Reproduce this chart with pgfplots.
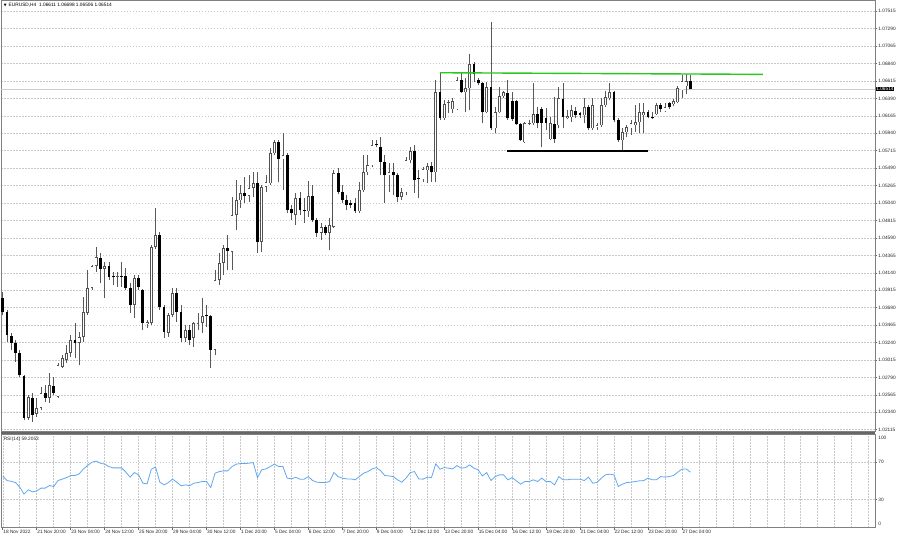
\documentclass[border=0pt]{standalone}
\usepackage{fontspec}
\setmainfont{Liberation Sans}
\newfontfamily\dejavu{DejaVu Sans}
\usepackage{pgfplots}
\usepackage{pgfplotstable}
\pgfplotsset{compat=1.18}

\pgfplotstableread{
i O H L C
6 1.02267 1.02563 1.02241 1.02538
8 1.02319 1.02525 1.02280 1.02396
9 1.02396 1.02667 1.02370 1.02589
11 1.02525 1.02847 1.02460 1.02692
13 1.02538 1.02976 1.02525 1.02950
14 1.02924 1.03079 1.02912 1.03040
15 1.03015 1.03208 1.02976 1.03105
16 1.03105 1.03337 1.03053 1.03272
18 1.03234 1.03376 1.02950 1.03311
19 1.03311 1.03827 1.03247 1.03633
20 1.03620 1.04175 1.03595 1.03943
21 1.03943 1.04239 1.03917 1.04226
22 1.04226 1.04471 1.04149 1.04342
24 1.04188 1.04278 1.03814 1.04226
27 1.04085 1.04149 1.03956 1.04097
31 1.03724 1.04110 1.03556 1.04072
34 1.03479 1.03530 1.03427 1.03504
35 1.03492 1.04497 1.03466 1.04471
36 1.04471 1.04974 1.04445 1.04626
39 1.03363 1.03620 1.03311 1.03595
40 1.03595 1.03943 1.03569 1.03878
43 1.03298 1.03466 1.03247 1.03401
45 1.03298 1.03504 1.03182 1.03492
46 1.03479 1.03620 1.03401 1.03492
47 1.03492 1.03814 1.03363 1.03582
50 1.03144 1.04175 1.03079 1.04046
51 1.04046 1.04394 1.03981 1.04265
52 1.04265 1.04497 1.04110 1.04458
54 1.04407 1.05116 1.04175 1.04884
55 1.04884 1.05335 1.04690 1.05077
56 1.05077 1.05270 1.04974 1.05167
58 1.05129 1.05399 1.05051 1.05232
59 1.05232 1.05438 1.05116 1.05296
61 1.04536 1.05270 1.04407 1.05245
62 1.05245 1.05399 1.05180 1.05309
63 1.05296 1.05747 1.05270 1.05683
64 1.05683 1.05850 1.05657 1.05825
66 1.05606 1.05941 1.05206 1.05657
69 1.04884 1.05167 1.04755 1.05103
72 1.04935 1.05322 1.04858 1.05129
75 1.04652 1.04781 1.04561 1.04729
77 1.04652 1.04845 1.04433 1.04755
78 1.04729 1.05464 1.04716 1.05425
84 1.04935 1.05309 1.04909 1.05206
85 1.05206 1.05657 1.05180 1.05438
86 1.05438 1.05657 1.05399 1.05528
87 1.05528 1.05850 1.05502 1.05786
91 1.05399 1.05554 1.05180 1.05438
94 1.05116 1.05232 1.05077 1.05180
95 1.05180 1.05631 1.05141 1.05593
96 1.05593 1.05760 1.05554 1.05709
99 1.05348 1.05502 1.05309 1.05477
100 1.05464 1.05554 1.05296 1.05515
102 1.05438 1.06624 1.05309 1.06469
104 1.06134 1.06366 1.06108 1.06314
105 1.06327 1.06366 1.06198 1.06340
106 1.06250 1.06392 1.06198 1.06353
107 1.06250 1.06663 1.06237 1.06624
109 1.06469 1.06650 1.06211 1.06521
110 1.06521 1.06959 1.06237 1.06830
114 1.06211 1.06598 1.06198 1.06534
116 1.06005 1.06276 1.05941 1.06211
117 1.06211 1.06534 1.06198 1.06418
118 1.06418 1.06482 1.06392 1.06469
123 1.05825 1.06082 1.05812 1.06070
124 1.06057 1.06108 1.06044 1.06070
125 1.06070 1.06585 1.06044 1.06186
129 1.05863 1.06147 1.05850 1.06070
131 1.06044 1.06534 1.06005 1.06392
133 1.06134 1.06237 1.06121 1.06160
134 1.06147 1.06302 1.06082 1.06237
137 1.06173 1.06392 1.06070 1.06276
139 1.06005 1.06392 1.05979 1.06302
140 1.06018 1.06070 1.05979 1.06044
141 1.06044 1.06392 1.06018 1.06302
142 1.06302 1.06482 1.06276 1.06405
143 1.06392 1.06585 1.06366 1.06469
146 1.05850 1.06005 1.05722 1.05954
147 1.05954 1.06044 1.05889 1.06018
148 1.06005 1.06108 1.05915 1.06070
149 1.06044 1.06302 1.05954 1.06082
150 1.06082 1.06327 1.05941 1.06211
151 1.06173 1.06327 1.05941 1.06211
154 1.06186 1.06327 1.06173 1.06302
156 1.06224 1.06327 1.06211 1.06276
158 1.06314 1.06379 1.06289 1.06353
159 1.06340 1.06547 1.06327 1.06521
160 1.06495 1.06688 1.06392 1.06611
161 1.06547 1.06701 1.06443 1.06611
}\bull

\pgfplotstableread{
i O H L C
0 1.03814 1.03891 1.03595 1.03633
1 1.03633 1.03659 1.03247 1.03337
2 1.03324 1.03363 1.03144 1.03234
3 1.03234 1.03272 1.02989 1.03105
4 1.03105 1.03144 1.02796 1.02821
5 1.02808 1.02821 1.02241 1.02267
7 1.02525 1.02589 1.02215 1.02306
10 1.02589 1.02692 1.02473 1.02525
12 1.02680 1.02796 1.02563 1.02589
17 1.03272 1.03492 1.03040 1.03234
23 1.04329 1.04394 1.04007 1.04188
25 1.04226 1.04278 1.04046 1.04085
26 1.04097 1.04149 1.03981 1.04085
28 1.04097 1.04278 1.03956 1.04085
29 1.04097 1.04201 1.03917 1.03943
30 1.03943 1.04007 1.03620 1.03724
32 1.04072 1.04110 1.03917 1.03956
33 1.03917 1.03930 1.03401 1.03492
37 1.04626 1.04665 1.03659 1.03698
38 1.03698 1.03724 1.03298 1.03376
41 1.03878 1.03943 1.03504 1.03633
42 1.03633 1.03724 1.03247 1.03298
44 1.03401 1.03466 1.03208 1.03272
48 1.03595 1.03724 1.03440 1.03582
49 1.03582 1.03595 1.02912 1.03144
53 1.04458 1.04626 1.04175 1.04420
57 1.05167 1.05374 1.05038 1.05129
60 1.05296 1.05438 1.04394 1.04536
65 1.05825 1.05850 1.05309 1.05606
67 1.05657 1.05683 1.04909 1.04948
68 1.04961 1.05013 1.04819 1.04909
70 1.05103 1.05180 1.04884 1.04948
71 1.04948 1.05103 1.04781 1.04935
73 1.05129 1.05270 1.04793 1.04819
74 1.04819 1.04845 1.04600 1.04652
76 1.04729 1.04755 1.04626 1.04652
79 1.05425 1.05490 1.05154 1.05180
80 1.05180 1.05270 1.05038 1.05077
81 1.05077 1.05141 1.04948 1.05013
82 1.05038 1.05077 1.04974 1.05013
83 1.05038 1.05103 1.04909 1.04935
88 1.05799 1.05850 1.05760 1.05786
89 1.05760 1.05889 1.05399 1.05567
90 1.05567 1.05657 1.05038 1.05399
92 1.05438 1.05554 1.05141 1.05399
93 1.05399 1.05425 1.05051 1.05116
97 1.05709 1.05786 1.05167 1.05335
98 1.05361 1.05464 1.05103 1.05348
101 1.05515 1.05567 1.05309 1.05438
103 1.06469 1.06727 1.06108 1.06134
108 1.06624 1.06714 1.06456 1.06469
111 1.06830 1.06856 1.06598 1.06701
112 1.06624 1.06650 1.06559 1.06585
113 1.06585 1.06598 1.06070 1.06211
115 1.06534 1.07371 1.05979 1.06005
119 1.06456 1.06624 1.06108 1.06134
120 1.06353 1.06469 1.06095 1.06121
121 1.06353 1.06366 1.06044 1.06057
122 1.06057 1.06070 1.05838 1.05850
126 1.06186 1.06276 1.06005 1.06070
127 1.06250 1.06276 1.05760 1.06070
128 1.06134 1.06263 1.05979 1.06070
130 1.06057 1.06405 1.05812 1.05863
132 1.06379 1.06585 1.06005 1.06147
135 1.06224 1.06276 1.06134 1.06173
136 1.06198 1.06211 1.06134 1.06173
138 1.06276 1.06302 1.05979 1.06005
144 1.06469 1.06482 1.06082 1.06108
145 1.06108 1.06134 1.05825 1.05850
152 1.06211 1.06237 1.06134 1.06147
153 1.06147 1.06211 1.06121 1.06134
155 1.06302 1.06327 1.06211 1.06250
157 1.06327 1.06340 1.06250 1.06276
162 1.06611 1.06698 1.06506 1.06514
}\bear

\pgfplotstableread{
i R
0 55.3
1 50.3
2 49.5
3 48.2
4 43.3
5 35.8
6 40.4
7 38.2
8 39.3
9 42.2
10 42.2
11 45.0
12 43.9
13 50.3
14 51.8
15 53.5
16 55.7
17 55.7
18 57.5
19 62.8
20 66.4
21 70.0
22 71.1
23 68.9
24 67.9
25 65.3
26 63.9
27 63.9
28 63.9
29 59.3
30 54.0
31 58.9
32 56.4
33 47.5
34 46.8
35 62.5
36 64.7
37 48.6
38 45.7
39 48.2
40 51.8
41 48.6
42 44.7
43 45.7
44 44.7
45 47.5
46 48.2
47 49.3
48 49.3
49 42.8
50 58.2
51 59.9
52 60.7
53 60.7
54 65.3
55 67.9
56 68.5
57 68.5
58 68.9
59 69.6
60 53.5
61 61.8
62 62.8
63 65.3
64 67.9
65 65.3
66 65.3
67 52.9
68 52.1
69 53.9
70 51.8
71 51.8
72 54.6
73 50.3
74 48.6
75 48.2
76 48.2
77 49.3
78 58.9
79 54.6
80 52.9
81 52.1
82 52.1
83 51.1
84 54.6
85 58.2
86 59.9
87 62.8
88 64.2
89 61.0
90 55.7
91 55.3
92 54.6
93 51.1
94 48.6
95 52.9
96 58.9
97 59.9
98 52.1
99 51.8
100 54.0
101 53.5
102 68.2
103 62.5
104 64.2
105 63.6
106 62.8
107 66.4
108 63.6
109 64.2
110 67.1
111 63.6
112 61.8
113 55.3
114 58.9
115 50.3
116 54.6
117 56.4
118 56.4
119 51.1
120 53.5
121 50.0
122 46.5
123 49.3
124 49.3
125 51.1
126 49.3
127 52.9
128 49.3
129 49.3
130 45.7
131 54.6
132 51.1
133 51.1
134 51.8
135 51.8
136 51.8
137 50.3
138 54.0
139 47.5
140 48.2
141 52.9
142 56.4
143 57.2
144 56.4
145 43.9
146 46.5
147 48.2
148 48.6
149 49.3
150 50.0
151 50.3
152 52.9
153 51.1
154 51.1
155 54.6
156 54.0
157 54.6
158 55.7
159 59.3
160 62.5
161 62.8
162 59.2
}\rsi

\definecolor{rsiblue}{RGB}{95,168,240}
\definecolor{trendgreen}{RGB}{40,200,30}
\definecolor{gridgray}{RGB}{200,200,200}

\pgfplotsset{
  mtframe/.style={
    scale only axis, width=875bp,
    xmin=-0.4, xmax=205.5,
    axis line style={draw=black!50, line width=0.9bp},
    tick align=outside, major tick length=2bp, minor tick length=0pt,
    tick style={draw=black!60, line width=0.6bp},
    minor xtick={0,4,...,204}, xminorgrids=true, xmajorgrids=false,
    minor grid style={draw=gridgray, dash pattern=on 1.5bp off 1.5bp, line width=0.55bp},
    major grid style={draw=gridgray, dash pattern=on 1.5bp off 1.5bp, line width=0.55bp},
    ymajorgrids=true,
    ytick pos=right, xtick pos=lower,
    ticklabel style={font=\fontsize{4.8}{5.5}\selectfont, text=black!85},
    yticklabel style={anchor=west, inner sep=0pt, xshift=1.2bp},
    scaled y ticks=false,
    /pgf/number format/assume math mode=true,
    clip mode=individual,
  },
  ebar/.style 2 args={draw=none, mark=none, forget plot,
    error bars/.cd, y dir=plus, y explicit, error mark=none,
    error bar style={draw=#1, line width=#2, line cap=butt, solid}},
}

\begin{document}
\begin{tikzpicture}[x=1bp, y=1bp, font=\fontsize{4.8}{5.5}\selectfont]

% ---------------- price panel ----------------
\begin{axis}[mtframe, at={(0bp,107bp)}, anchor=south west, height=432bp,
  ymin=1.020865, ymax=1.07655,
  xtick=\empty,
  ytick={1.02115,1.02340,1.02565,1.02790,1.03015,1.03240,1.03465,1.03690,1.03915,1.04140,1.04365,1.04590,1.04815,1.05040,1.05265,1.05490,1.05715,1.05940,1.06165,1.06390,1.06615,1.06840,1.07065,1.07290,1.07515},
  yticklabels={1.02115,1.02340,1.02565,1.02790,1.03015,1.03240,1.03465,1.03690,1.03915,1.04140,1.04365,1.04590,1.04815,1.05040,1.05265,1.05490,1.05715,1.05940,1.06165,1.06390,1.06615,1.06840,1.07065,1.07290,1.07515},
]
% bid line
\addplot [black!20, line width=0.7bp, forget plot] coordinates {(-0.4,1.06514) (205.5,1.06514)};
% wicks
\addplot [ebar={black!65}{0.8bp}] table [x=i, y=L, y error expr=\thisrow{H}-\thisrow{L}] {\bull};
\addplot [ebar={black!65}{0.8bp}] table [x=i, y=L, y error expr=\thisrow{H}-\thisrow{L}] {\bear};
% bullish bodies: outline then white inside
\addplot [ebar={black!68}{2.8bp}] table [x=i, y=O, y error expr={max(\thisrow{C}-\thisrow{O},0.00008)}] {\bull};
\addplot [ebar={white}{1.4bp}] table [x=i, y expr=\thisrow{O}+0.00009, y error expr={max(\thisrow{C}-\thisrow{O}-0.00018,0)}] {\bull};
% bearish bodies
\addplot [ebar={black}{2.8bp}] table [x=i, y=C, y error expr={max(\thisrow{O}-\thisrow{C},0.00008)}] {\bear};
% drawn levels
\addplot [trendgreen, line width=1.4bp] coordinates {(103,1.06722) (179.1,1.06701)};
\addplot [black, line width=1.4bp] coordinates {(118.9,1.05713) (152,1.05713)};
% current price box
\node [fill=black, text=white, inner sep=0.5bp, anchor=west] at (axis cs:205.5,1.06514) [xshift=0.6bp] {1.06514};
% header
\node [anchor=west, inner sep=0pt] at (rel axis cs:0,1) [xshift=2.5bp, yshift=-5bp]
  {{\dejavu\fontsize{3.6}{4}\selectfont ▼}\hspace{2.2bp}EURUSD,H4\hspace{1.5bp} 1.06611 1.06698 1.06506 1.06514};
\end{axis}

% separator between panels
\draw [black!60, line width=2.2bp] (0bp,106bp) -- (875bp,106bp);

% ---------------- RSI panel ----------------
\begin{axis}[mtframe, at={(0bp,11.25bp)}, anchor=south west, height=93.5bp,
  ymin=0, ymax=100, ytick={30,70}, yticklabels={30,70},
  xtick={0,8,...,160},
  xticklabels={18 Nov 2022,21 Nov 20:00,23 Nov 04:00,24 Nov 12:00,25 Nov 20:00,29 Nov 04:00,30 Nov 12:00,1 Dec 20:00,5 Dec 04:00,6 Dec 12:00,7 Dec 20:00,9 Dec 04:00,12 Dec 12:00,13 Dec 20:00,15 Dec 04:00,16 Dec 12:00,19 Dec 20:00,21 Dec 04:00,22 Dec 12:00,23 Dec 20:00,27 Dec 04:00},
  xticklabel style={anchor=north west, inner sep=0pt, xshift=0.4bp, yshift=-0.8bp},
]
\addplot [rsiblue, line width=0.8bp] table [x=i, y=R] {\rsi};
\node [anchor=north west, inner sep=0pt, text=black!85] at (rel axis cs:0,1) [xshift=2.5bp, yshift=-2.2bp] {RSI(14) 59.2053};
\node [anchor=west, inner sep=0pt, text=black!85] at (rel axis cs:1,1) [xshift=3.2bp, yshift=-3.4bp] {100};
\node [anchor=west, inner sep=0pt, text=black!85] at (rel axis cs:1,0) [xshift=3.2bp, yshift=3.6bp] {0};
\end{axis}
\path (0bp,0bp) rectangle (900bp,539bp);
\end{tikzpicture}
\end{document}
